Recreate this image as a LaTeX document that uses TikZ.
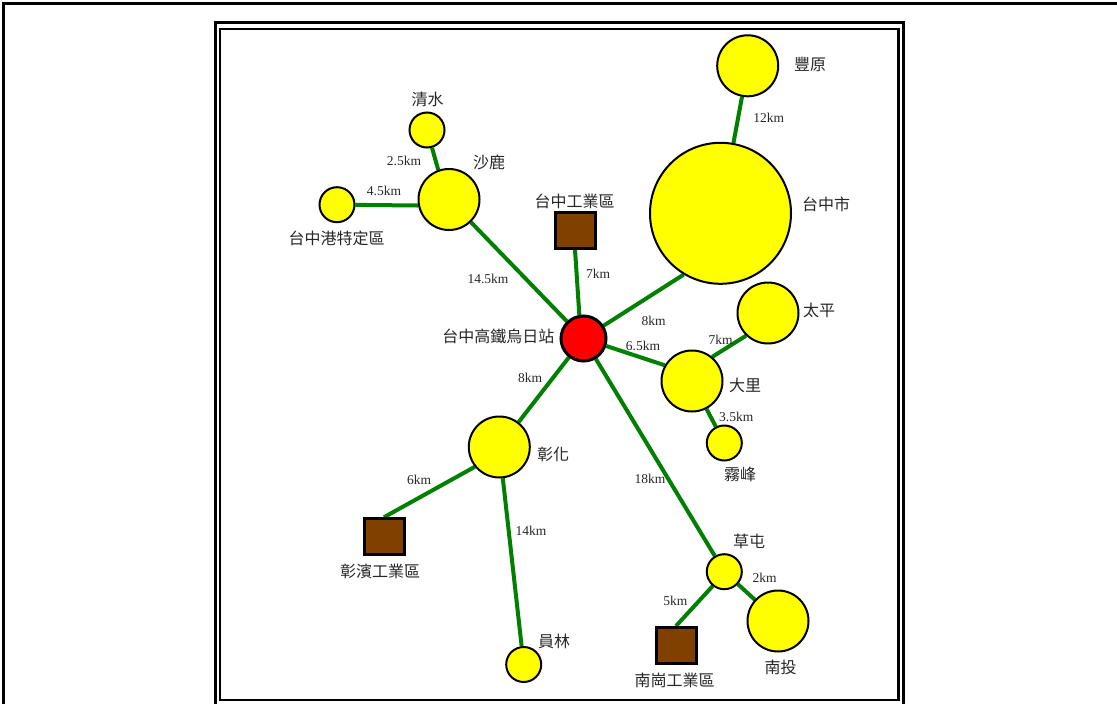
\documentclass[tikz,border=0pt]{standalone}
\usepackage{fontspec}
\setmainfont{Liberation Serif}
\newfontfamily\cjk{Noto Sans CJK TC}
\usetikzlibrary{backgrounds}
\definecolor{cyel}{RGB}{255,255,0}
\definecolor{cred}{RGB}{255,0,0}
\definecolor{cbrown}{RGB}{128,64,0}
\definecolor{cgreen}{RGB}{0,128,0}
\begin{document}
\begin{tikzpicture}[x=1pt,y=-1pt,
  town/.style={circle,draw=black,fill=cyel,line width=2pt,inner sep=0pt,minimum size=#1},
  hub/.style={circle,draw=black,fill=cred,line width=3pt,inner sep=0pt,minimum size=45pt},
  zone/.style={rectangle,draw=black,fill=cbrown,line width=3pt,inner sep=0pt,minimum width=40pt,minimum height=36pt},
  road/.style={draw=cgreen,line width=4pt},
  placelabel/.style={font=\cjk\fontsize{16}{16}\selectfont,text=black!85,inner sep=0pt},
  distlabel/.style={font=\fontsize{13.5}{13.5}\selectfont,text=black!85,inner sep=0pt},
  framebox/.style={draw=black,line width=2.5pt}]
\useasboundingbox (0,0) rectangle (1117,704);
% frames
\draw[framebox] (3.5,704) -- (3.5,3.5) -- (1117,3.5);
\draw[framebox,line width=3pt] (215,704) -- (215,22.7) -- (903.5,22.7) -- (903.5,704);
\draw[framebox] (220,29) rectangle (898.5,699.8);
% places
\node[town=61pt] (fy) at (747.7,65.8) {};
\node[town=141pt] (tc) at (720.5,213.3) {};
\node[town=35pt] (qs) at (427,130) {};
\node[town=61pt] (sl) at (449,199.5) {};
\node[town=35pt] (tgg) at (337,204.7) {};
\node[zone] (tgq) at (575,230) {};
\node[hub] (red) at (583.5,338.5) {};
\node[town=61pt] (tp) at (768,313) {};
\node[town=61pt] (dl) at (692,381) {};
\node[town=35pt] (wf) at (724.3,443) {};
\node[town=61pt] (ch) at (499.3,447) {};
\node[zone] (zb) at (384,536.7) {};
\node[town=35pt] (yl) at (523.7,664.5) {};
\node[town=35pt] (ct) at (724.3,571.7) {};
\node[town=61pt] (nt) at (778,621) {};
\node[zone] (ng) at (676,645.5) {};
% roads
\begin{scope}[on background layer]
\draw[road] (fy) -- (tc);
\draw[road] (red) -- (tc.239);
\draw[road] (qs) -- (sl.110);
\draw[road] (tgg) -- (sl.191);
\draw[road] (sl) -- (red);
\draw[road] (tgq.south) -- (red.100);
\draw[road] (red) -- (dl.150);
\draw[road] (tp.226) -- (dl.50);
\draw[road] (dl) -- (wf);
\draw[road] (red) -- (ch);
\draw[road] (ch.219) -- (zb.north);
\draw[road] (ch) -- (yl);
\draw[road] (red) -- (ct);
\draw[road] (ct) -- (nt);
\draw[road] (ct.231) -- (ng.north);
\end{scope}
% place names
\node[placelabel] (lfy) at (810,64) {豐原};
\node[placelabel] (ltc) at (826,204.5) {台中市};
\node[placelabel] (lqs) at (427.5,99.7) {清水};
\node[placelabel] (lsl) at (489,162.5) {沙鹿};
\node[placelabel] (ltgg) at (336.5,238.7) {台中港特定區};
\node[placelabel] (ltgq) at (574.7,201) {台中工業區};
\node[placelabel] (lred) at (498.3,336.7) {台中高鐵烏日站};
\node[placelabel] (ltp) at (819,310.5) {太平};
\node[placelabel] (ldl) at (745,385.7) {大里};
\node[placelabel] (lwf) at (740,474) {霧峰};
\node[placelabel] (lch) at (553,454) {彰化};
\node[placelabel] (lzb) at (380,571) {彰濱工業區};
\node[placelabel] (lyl) at (554,641.3) {員林};
\node[placelabel] (lct) at (749,541.7) {草屯};
\node[placelabel] (lnt) at (780.5,667.5) {南投};
\node[placelabel] (lng) at (674.7,680) {南崗工業區};
% distances
\node[distlabel] (d1) at (768.7,118) {12km};
\node[distlabel] (d2) at (404,160.5) {2.5km};
\node[distlabel] (d3) at (384,191) {4.5km};
\node[distlabel] (d4) at (488,279) {14.5km};
\node[distlabel] (d5) at (598,274) {7km};
\node[distlabel] (d6) at (653.7,321) {8km};
\node[distlabel] (d7) at (643,346) {6.5km};
\node[distlabel] (d8) at (720.7,339.7) {7km};
\node[distlabel] (d9) at (736.3,416.7) {3.5km};
\node[distlabel] (d10) at (530,378) {8km};
\node[distlabel] (d11) at (650,478.5) {18km};
\node[distlabel] (d12) at (419,480) {6km};
\node[distlabel] (d13) at (531,530.5) {14km};
\node[distlabel] (d14) at (764.7,577.5) {2km};
\node[distlabel] (d15) at (675.3,600.5) {5km};
\end{tikzpicture}
\end{document}
